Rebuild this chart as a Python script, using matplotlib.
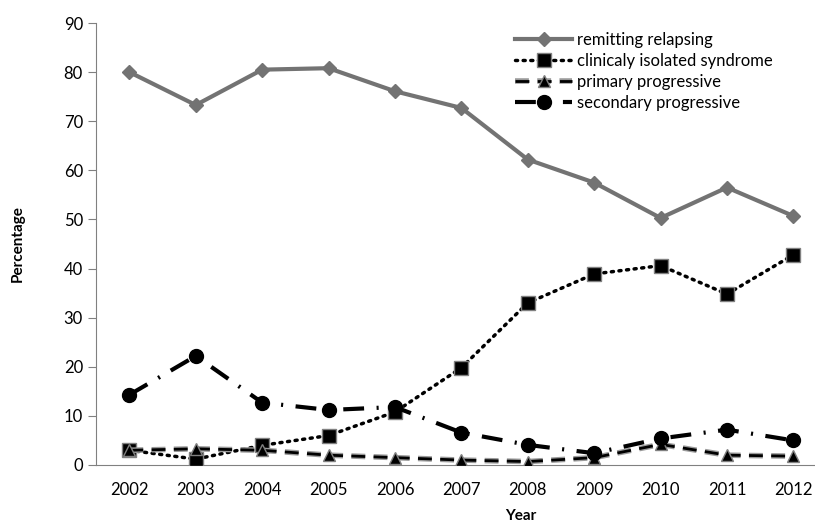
import matplotlib.pyplot as plt
import matplotlib.patheffects as pe
import numpy as np

years = ["2002", "2003", "2004", "2005", "2006", "2007", "2008", "2009", "2010", "2011", "2012"]
remitting = [80.0, 73.3, 80.5, 80.8, 76.1, 72.7, 62.2, 57.5, 50.3, 56.5, 50.7]
clinicaly = [3.0, 1.2, 4.0, 6.0, 10.8, 19.8, 33.0, 38.9, 40.6, 34.8, 42.8]
primary = [3.0, 3.3, 3.0, 2.0, 1.5, 1.0, 0.7, 1.5, 4.2, 2.0, 1.8]
secondary = [14.3, 22.2, 12.7, 11.2, 11.8, 6.6, 4.1, 2.4, 5.4, 7.2, 5.0]

plt.rcParams['font.family'] = ['Lato', 'DejaVu Sans']
x = np.arange(len(years))

fig = plt.figure(figsize=(8.15, 5.24), dpi=100)
ax = fig.add_axes([0.118, 0.1126, 0.884, 0.8435])

h1, = ax.plot(x, remitting, color='#737373', lw=3, marker='D', ms=7, mfc='#737373', mec='#737373', zorder=3)
h2, = ax.plot(x, clinicaly, color='black', lw=2.5, ls=(0, (0.6, 1.6)), dash_capstyle='round',
              marker='s', ms=10, mfc='black', mec='#808080', mew=1, zorder=4)
# primary: dashed black line with grey outline, markers drawn separately
p_line, = ax.plot(x, primary, color='black', lw=2, ls=(0, (5, 3)), zorder=5,
                  path_effects=[pe.withStroke(linewidth=4, foreground='#9a9a9a')])
p_mark, = ax.plot(x, primary, ls='none', marker='^', ms=9, mfc='black', mec='#808080', mew=1, zorder=5)
h4, = ax.plot(x, secondary, color='black', lw=3, ls=(0, (5, 3, 0.5, 3)), marker='o', ms=10, mfc='black',
              mec='black', zorder=6)

ax.set_xlim(-0.5, 10.35)
ax.set_ylim(0, 90)
ax.set_yticks(range(0, 91, 10))
ax.set_xticks(x)
ax.set_xticklabels(years)
ax.tick_params(axis='x', length=0, labelsize=12, pad=12)
ax.tick_params(axis='y', length=6, color='#808080', labelsize=12, direction='out')
for s in ['top', 'right']:
    ax.spines[s].set_visible(False)
for s in ['left', 'bottom']:
    ax.spines[s].set_color('#808080')
ax.set_ylabel('Percentage', fontweight='bold', fontsize=11, labelpad=28)
ax.set_xlabel('Year', fontweight='bold', fontsize=11)
ax.xaxis.set_label_coords(0.59, -0.1)

ax.legend([h1, h2, (p_line, p_mark), h4],
          ['remitting relapsing', 'clinicaly isolated syndrome', 'primary progressive', 'secondary progressive'],
          loc='upper left', bbox_to_anchor=(0.622, 0.955), bbox_transform=fig.transFigure,
          frameon=False, fontsize=12, handlelength=3.4, labelspacing=0.3, borderpad=0, handletextpad=0.3)

fig.savefig('out.png', dpi=100)
